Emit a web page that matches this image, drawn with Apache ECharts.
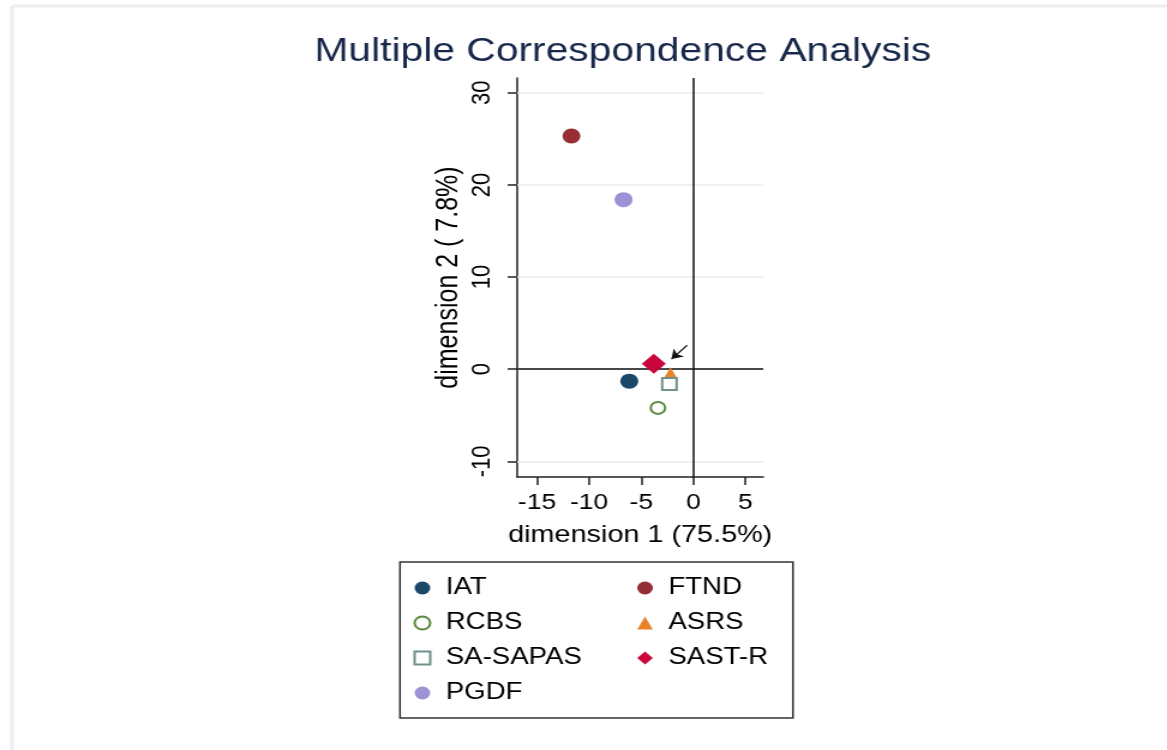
<!DOCTYPE html>
<html>
<head>
<meta charset="utf-8">
<script src="https://cdn.jsdelivr.net/npm/echarts@6/dist/echarts.min.js"></script>
<style>
  html, body { margin: 0; padding: 0; background: #fff; overflow: hidden; }
  /* the source graphic is stretched horizontally, so draw narrow and widen */
  #chart { width: 973px; height: 750px; transform: scaleX(1.2); transform-origin: 0 0; }
</style>
</head>
<body>
<div id="chart"></div>
<script>
// dimension 1 / dimension 2 coordinates
const iat = [[-6.15, -1.3]];
const ftnd = [[-11.7, 25.3]];
const rcbs = [[-3.4, -4.2]];
const asrs = [[-2.2, -0.5]];
const saSapas = [[-2.3, -1.6]];
const sastR = [[-3.8, 0.6]];
const pgdf = [[-6.7, 18.4]];

const xTicks = [-15, -10, -5, 0, 5];
const yTicks = [-10, 0, 10, 20, 30];
const arrowFrom = [-0.6, 2.6];
const arrowTo = [-2.1, 1.1];

const FONT = "Liberation Sans, Arial, Helvetica, sans-serif";
const INK = "#000";

const chart = echarts.init(document.getElementById("chart"));

const scatter = (name, data, symbol, size, color, hollow) => ({
  name,
  type: "scatter",
  data,
  symbol,
  symbolSize: size,
  z: 5,
  itemStyle: hollow
    ? { color: "#ffffff", borderColor: color, borderWidth: 2, opacity: 1 }
    : { color, opacity: 1 },
});

const option = {
  backgroundColor: "#ffffff",
  animation: false,
  title: {
    text: "Multiple Correspondence Analysis",
    left: 514,
    top: 30,
    textAlign: "center",
    textStyle: {
      fontFamily: FONT,
      fontSize: 34,
      fontWeight: "normal",
      color: "#18284a",
    },
  },
  grid: { left: 431, top: 78, right: 337, bottom: 273 },
  xAxis: {
    type: "value",
    min: -16.9,
    max: 6.7,
    name: "dimension 1 (75.5%)",
    nameLocation: "middle",
    nameGap: 46,
    nameTextStyle: { fontFamily: FONT, fontSize: 24, color: INK },
    axisLine: { show: true, onZero: false, lineStyle: { color: "#222", width: 1.5 } },
    axisTick: { show: true, customValues: xTicks, length: 8, lineStyle: { color: "#222", width: 1.5 } },
    axisLabel: { customValues: xTicks, margin: 15, fontFamily: FONT, fontSize: 22, color: INK },
    splitLine: { show: false },
  },
  yAxis: {
    type: "value",
    min: -11.7,
    max: 31.6,
    name: "dimension 2 ( 7.8%)",
    nameLocation: "middle",
    nameGap: 44,
    nameTextStyle: { fontFamily: FONT, fontSize: 25, color: INK },
    axisLine: { show: true, onZero: false, lineStyle: { color: "#222", width: 1.5 } },
    axisTick: { show: true, customValues: yTicks, length: 8, lineStyle: { color: "#222", width: 1.5 } },
    axisLabel: { customValues: yTicks, rotate: 90, margin: 18, fontFamily: FONT, fontSize: 22, color: INK },
    splitLine: { show: false },
  },
  legend: [
    {
      orient: "vertical",
      left: 344.5,
      top: 576.5,
      padding: 0,
      itemWidth: 13,
      itemHeight: 13,
      itemGap: 12,
      data: ["IAT", "RCBS", "SA-SAPAS", "PGDF"],
      textStyle: { fontFamily: FONT, fontSize: 23, lineHeight: 23, color: INK, padding: [0, 0, 0, 8] },
    },
    {
      orient: "vertical",
      left: 531,
      top: 576.5,
      padding: 0,
      itemWidth: 13,
      itemHeight: 13,
      itemGap: 12,
      data: ["FTND", "ASRS", "SAST-R"],
      textStyle: { fontFamily: FONT, fontSize: 23, lineHeight: 23, color: INK, padding: [0, 0, 0, 8] },
    },
  ],
  graphic: [
    { type: "line", shape: { x1: 10, y1: 6, x2: 973, y2: 6 }, style: { stroke: "#eceef1", lineWidth: 3 } },
    { type: "line", shape: { x1: 10, y1: 6, x2: 10, y2: 750 }, style: { stroke: "#eceef1", lineWidth: 3 } },
    {
      type: "rect",
      shape: { x: 333.3, y: 562, width: 327.5, height: 156 },
      style: { fill: "none", stroke: "#333", lineWidth: 1.5 },
    },
  ],
  series: [
    {
      name: "grid",
      type: "scatter",
      data: [],
      z: 1,
      markLine: {
        silent: true,
        symbol: "none",
        label: { show: false },
        lineStyle: { color: "#e3ebf0", width: 1.5, type: "solid" },
        data: yTicks.map((v) => ({ yAxis: v })),
      },
    },
    {
      name: "ref",
      type: "scatter",
      data: [],
      z: 2,
      markLine: {
        silent: true,
        symbol: "none",
        label: { show: false },
        lineStyle: { color: "#111", width: 1.5, type: "solid" },
        data: [{ xAxis: 0 }, { yAxis: 0 }],
      },
    },
    {
      name: "arrow",
      type: "scatter",
      data: [],
      z: 6,
      markLine: {
        silent: true,
        symbol: ["none", "arrow"],
        symbolSize: 9,
        label: { show: false },
        lineStyle: { color: "#111", width: 1.2, type: "solid" },
        data: [[{ coord: arrowFrom }, { coord: arrowTo }]],
      },
    },
    scatter("IAT", iat, "circle", 15, "#1b4769", false),
    scatter("FTND", ftnd, "circle", 15, "#962f35", false),
    scatter("RCBS", rcbs, "circle", 12, "#5b8a3c", true),
    scatter("ASRS", asrs, "triangle", 13, "#e8832a", false),
    scatter("SA-SAPAS", saSapas, "rect", 12, "#6f908c", true),
    scatter("SAST-R", sastR, "diamond", 20, "#c8063c", false),
    scatter("PGDF", pgdf, "circle", 15, "#9c92d6", false),
  ],
};

chart.setOption(option);
</script>
</body>
</html>
